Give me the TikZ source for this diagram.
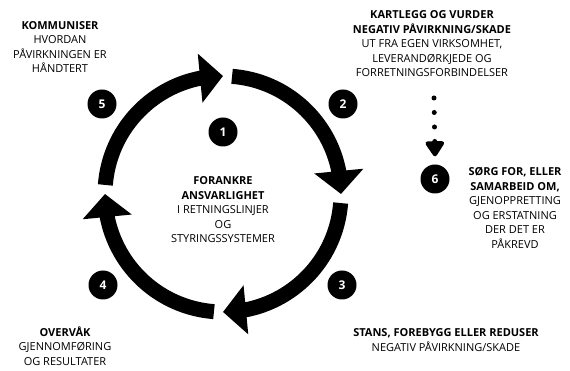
\documentclass[tikz,border=0pt]{standalone}
\usepackage{fontspec}
\setmainfont{Open Sans}
\usetikzlibrary{arrows.meta,bending}

\begin{document}
\begin{tikzpicture}[
		x=1pt, y=1pt,
		num/.style={circle,fill=black,text=white,font=\bfseries\fontsize{12}{12}\selectfont,minimum size=29pt,inner sep=0pt},
		lbl/.style={align=center,font=\fontsize{11}{14.5}\selectfont,inner sep=0pt},
		ring/.style={line width=15pt,-{Triangle[width=48pt,length=23pt]}}
	]
	\useasboundingbox (0,0) rectangle (570,371);
	% the four arrows round the circle
	\draw[ring] (223,177) ++(85.6:118) arc[start angle=85.6,end angle=0,radius=118];
	\draw[ring] (223,177) ++(-4.4:118) arc[start angle=-4.4,end angle=-90,radius=118];
	\draw[ring] (223,177) ++(-94.4:118) arc[start angle=-94.4,end angle=-180,radius=118];
	\draw[ring] (223,177) ++(175.6:118) arc[start angle=175.6,end angle=90,radius=118];

	\node[num] (n1) at (223,239) {1};
	\node[num] (n2) at (343,267) {2};
	\node[num] (n3) at (342,86) {3};
	\node[num] (n4) at (103,86) {4};
	\node[num] (n5) at (102,267) {5};
	\node[num] (n6) at (435,192) {6};

	\node[lbl] (forankre) at (223,161) {\textbf{FORANKRE}\\\textbf{ANSVARLIGHET}\\I RETNINGSLINJER\\OG\\STYRINGSSYSTEMER};
	\node[lbl] (kommuniser) at (60,324) {\textbf{KOMMUNISER}\\HVORDAN\\PÅVIRKNINGEN ER\\HÅNDTERT};
	\node[lbl] (kartlegg) at (432,327) {\textbf{KARTLEGG OG VURDER}\\\textbf{NEGATIV PÅVIRKNING/SKADE}\\UT FRA EGEN VIRKSOMHET,\\LEVERANDØRKJEDE OG\\FORRETNINGSFORBINDELSER};
	\node[lbl] (sorgfor) at (515,163) {\textbf{SØRG FOR, ELLER}\\\textbf{SAMARBEID OM,}\\GJENOPPRETTING\\OG ERSTATNING\\DER DET ER\\PÅKREVD};
	\node[lbl] (overvak) at (65,25) {\textbf{OVERVÅK}\\GJENNOMFØRING\\OG RESULTATER};
	\node[lbl] (stans) at (446,31) {\textbf{STANS, FOREBYGG ELLER REDUSER}\\NEGATIV PÅVIRKNING/SKADE};

	% dotted arrow down to 6
	\coordinate (dotstart) at (434,273);
	\draw[line width=5pt,line cap=round,dash pattern=on 0pt off 14.5pt,
		-{Triangle[width=21pt,length=17pt,round=false]}] (dotstart) -- ([yshift=8pt]n6.north);
\end{tikzpicture}
\end{document}
